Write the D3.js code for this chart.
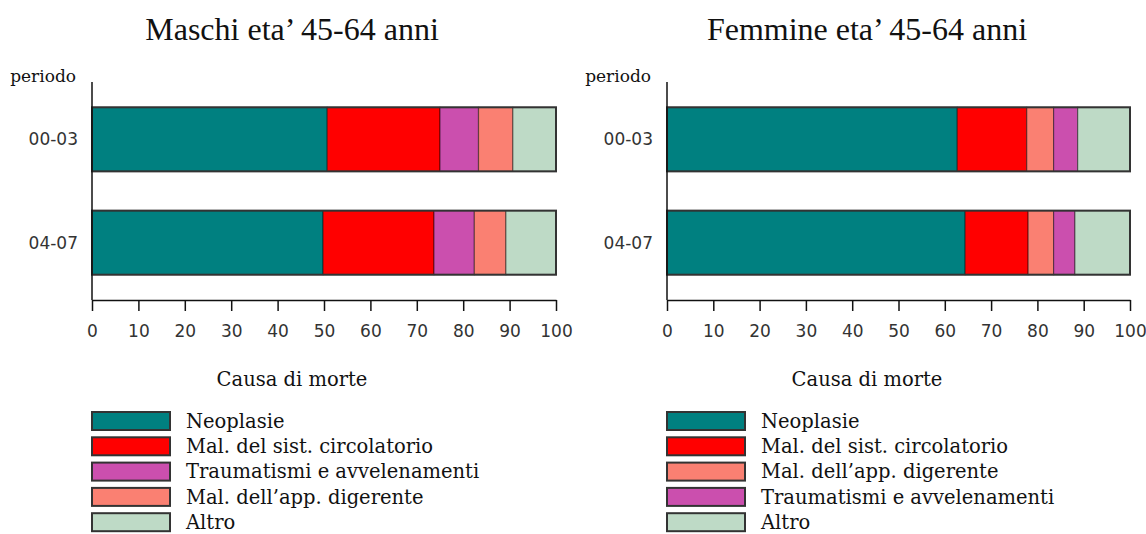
<!DOCTYPE html>
<html>
<head>
<meta charset="utf-8">
<script src="https://cdn.jsdelivr.net/npm/d3@7"></script>
<style>
  body { margin: 0; background: #fff; }
  svg { display: block; }
</style>
</head>
<body>
<svg id="chart" width="1146" height="534"></svg>
<script>
// Data (percent of deaths by cause)
const periods = ['00-03', '04-07'];
const xTicks = [0, 10, 20, 30, 40, 50, 60, 70, 80, 90, 100];

const causesMaschi = ['Neoplasie', 'Mal. del sist. circolatorio', 'Traumatismi e avvelenamenti', 'Mal. dell\u2019app. digerente', 'Altro'];
const maschi0003 = [50.7, 24.3, 8.3, 7.4, 9.3];
const maschi0407 = [49.8, 23.9, 8.7, 6.8, 10.8];

const causesFemmine = ['Neoplasie', 'Mal. del sist. circolatorio', 'Mal. dell\u2019app. digerente', 'Traumatismi e avvelenamenti', 'Altro'];
const femmine0003 = [62.7, 15.0, 5.8, 5.2, 11.3];
const femmine0407 = [64.4, 13.6, 5.5, 4.6, 11.9];

const causeColors = {
    'Neoplasie': '#008080',
    'Mal. del sist. circolatorio': '#ff0000',
    'Traumatismi e avvelenamenti': '#cb4fae',
    'Mal. dell\u2019app. digerente': '#fa8072',
    'Altro': '#bedac6'
};

const svg = d3.select('#chart');

function drawPanel(opts) {
    const { left, right, title, causes, rows } = opts;
    const top = 82, bottom = 300;
    const mid = left + 200;

    const x = d3.scaleLinear().domain([0, 100]).range([left, right]);
    const y = d3.scaleBand()
        .domain(periods)
        .range([top, bottom])
        .paddingInner(0.38)
        .paddingOuter(0.245);

    const g = svg.append('g');

    // title
    g.append('text')
        .attr('x', mid)
        .attr('y', 40)
        .attr('text-anchor', 'middle')
        .attr('font-family', 'Liberation Serif, serif')
        .attr('font-size', 32)
        .attr('fill', '#111')
        .text(title);

    // stacked bars
    rows.forEach((vals, i) => {
        const p = periods[i];
        let acc = 0;
        const segs = vals.map((v, j) => {
            const s = { cause: causes[j], x0: acc, x1: acc + v };
            acc += v;
            return s;
        });
        g.selectAll(null)
            .data(segs)
            .join('rect')
            .attr('x', d => x(d.x0))
            .attr('y', y(p))
            .attr('width', d => x(d.x1) - x(d.x0))
            .attr('height', y.bandwidth())
            .attr('fill', d => causeColors[d.cause])
            .attr('stroke', 'rgba(0,0,0,0.45)')
            .attr('stroke-width', 1.2);
        // outline of whole bar
        g.append('rect')
            .attr('x', x(0))
            .attr('y', y(p))
            .attr('width', x(acc) - x(0))
            .attr('height', y.bandwidth())
            .attr('fill', 'none')
            .attr('stroke', '#333')
            .attr('stroke-width', 2);
    });

    // y axis: line only, labels on the left
    g.append('line')
        .attr('x1', left).attr('x2', left)
        .attr('y1', top).attr('y2', bottom)
        .attr('stroke', '#111').attr('stroke-width', 1.5);
    g.selectAll(null)
        .data(periods)
        .join('text')
        .attr('x', left - 14)
        .attr('y', d => y(d) + y.bandwidth() / 2)
        .attr('dy', '0.35em')
        .attr('text-anchor', 'end')
        .attr('font-family', 'DejaVu Sans, sans-serif')
        .attr('font-size', 17)
        .attr('fill', '#333')
        .text(d => d);

    g.append('text')
        .attr('x', left - 16)
        .attr('y', 82)
        .attr('text-anchor', 'end')
        .attr('font-family', 'DejaVu Serif, serif')
        .attr('font-size', 17)
        .attr('fill', '#111')
        .text('periodo');

    // x axis
    const xAxis = g.append('g')
        .attr('transform', `translate(0,${bottom})`)
        .call(d3.axisBottom(x).tickValues(xTicks).tickSize(11).tickPadding(14).tickSizeOuter(0));
    xAxis.select('.domain').attr('stroke', '#111').attr('stroke-width', 1.5);
    xAxis.selectAll('.tick line').attr('stroke', '#111').attr('stroke-width', 1.5);
    xAxis.selectAll('.tick text')
        .attr('font-family', 'DejaVu Sans, sans-serif')
        .attr('font-size', 17)
        .attr('fill', '#333');

    g.append('text')
        .attr('x', mid)
        .attr('y', 386)
        .attr('text-anchor', 'middle')
        .attr('font-family', 'DejaVu Serif, serif')
        .attr('font-size', 19.5)
        .attr('fill', '#111')
        .text('Causa di morte');

    // legend
    const leg = g.append('g');
    const items = leg.selectAll(null)
        .data(causes)
        .join('g')
        .attr('transform', (d, i) => `translate(${left},${412 + i * 25.3})`);
    items.append('rect')
        .attr('width', 78)
        .attr('height', 18)
        .attr('fill', d => causeColors[d])
        .attr('stroke', '#333')
        .attr('stroke-width', 2);
    items.append('text')
        .attr('x', 94)
        .attr('y', 9)
        .attr('dy', '0.35em')
        .attr('font-family', 'DejaVu Serif, serif')
        .attr('font-size', 19.5)
        .attr('fill', '#111')
        .text(d => d);
}

drawPanel({
    left: 92, right: 556,
    title: 'Maschi eta\u2019  45-64 anni',
    causes: causesMaschi,
    rows: [maschi0003, maschi0407]
});

drawPanel({
    left: 667, right: 1130,
    title: 'Femmine eta\u2019  45-64 anni',
    causes: causesFemmine,
    rows: [femmine0003, femmine0407]
});
</script>
</body>
</html>
